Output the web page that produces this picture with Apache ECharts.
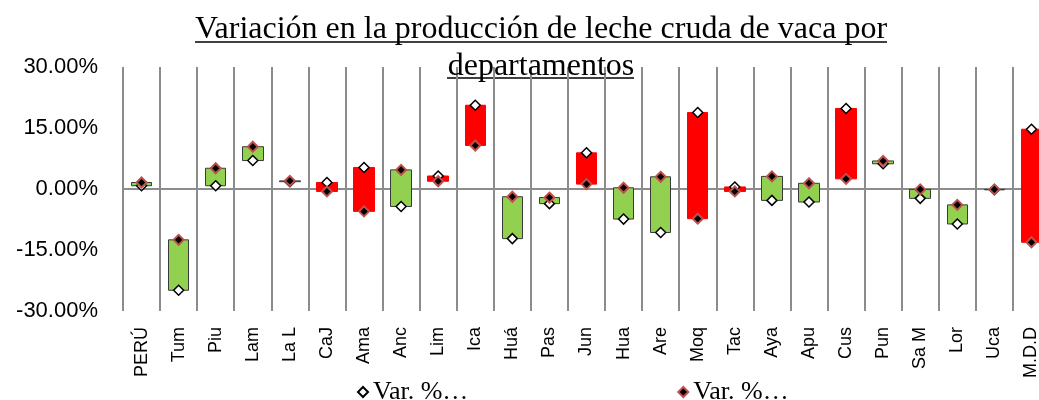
<!DOCTYPE html>
<html>
<head>
<meta charset="utf-8">
<script src="https://cdn.jsdelivr.net/npm/echarts@6/dist/echarts.min.js"></script>
<style>
  html, body { margin: 0; padding: 0; background: #fff; }
  #main { width: 1039px; height: 400px; }
</style>
</head>
<body>
<div id="main"></div>
<script>
// departamentos
var categories = ['PERÚ', 'Tum', 'Piu', 'Lam', 'La L', 'CaJ', 'Ama', 'Anc', 'Lim', 'Ica', 'Huá', 'Pas', 'Jun',
	'Hua', 'Are', 'Moq', 'Tac', 'Aya', 'Apu', 'Cus', 'Pun', 'Sa M', 'Lor', 'Uca', 'M.D.D'];
// primera variación (rombo blanco), en %
var varA = [0.8, -24.9, 0.8, 7.0, 1.8, 1.6, 5.3, -4.3, 3.2, 20.6, -12.2, -3.6, 8.9,
	-7.4, -10.7, 18.8, 0.5, -2.8, -3.2, 19.8, 6.2, -2.3, -8.6, -0.2, 14.7];
// segunda variación (rombo negro con borde rojo), en %
var varB = [1.6, -12.5, 5.1, 10.4, 2.0, -0.6, -5.5, 4.7, 1.9, 10.7, -1.9, -2.1, 1.2,
	0.3, 3.0, -7.3, -0.6, 3.1, 1.4, 2.5, 6.9, -0.1, -3.9, -0.1, -13.1];
var yTicks = [-30, -15, 0, 15, 30];
var nameA = 'Var. % (1)';
var nameB = 'Var. % (2)';

var chart = echarts.init(document.getElementById('main'));

// barras de subida / bajada entre las dos series
var boxes = [];
for (var i = 0; i < categories.length; i++) {
	boxes.push([varA[i], varB[i], Math.min(varA[i], varB[i]), Math.max(varA[i], varB[i])]);
}

var gray = '#8c8c8c';

var option = {
	animation: false,
	title: {
		text: 'Variación en la producción de leche cruda de vaca por\ndepartamentos',
		left: 536,
		top: 6,
		textAlign: 'center',
		textStyle: {
			fontFamily: 'Liberation Serif',
			fontSize: 32,
			fontWeight: 'normal',
			color: '#000',
			lineHeight: 37
		}
	},
	graphic: [
		{ type: 'line', shape: { x1: 195, y1: 42, x2: 887, y2: 42 }, style: { stroke: '#000', lineWidth: 1.5 } },
		{ type: 'line', shape: { x1: 447, y1: 78, x2: 634, y2: 78 }, style: { stroke: '#000', lineWidth: 1.5 } }
	],
	legend: {
		data: [nameA, nameB],
		left: 352,
		top: 374,
		itemGap: 209,
		itemWidth: 10,
		itemHeight: 10,
		formatter: function () { return 'Var. %…'; },
		textStyle: { fontFamily: 'Liberation Serif', fontSize: 26, color: '#000' }
	},
	grid: { left: 123, top: 67, width: 927, bottom: 89, outerBoundsMode: 'none' },
	xAxis: [
		{
			type: 'category',
			data: categories,
			position: 'bottom',
			axisLine: { onZero: true, lineStyle: { color: gray, width: 2 } },
			axisTick: { show: false },
			axisLabel: { show: false },
			splitLine: { show: false }
		},
		{
			type: 'category',
			data: categories,
			position: 'bottom',
			axisLine: { show: false, onZero: false },
			axisTick: { show: false },
			axisLabel: {
				rotate: 90,
				margin: 16,
				interval: 0,
				fontFamily: 'Liberation Sans',
				fontSize: 18,
				color: '#000'
			},
			splitLine: { show: true, interval: 0, lineStyle: { color: gray, width: 2 } }
		}
	],
	yAxis: {
		type: 'value',
		min: yTicks[0],
		max: yTicks[yTicks.length - 1],
		interval: 15,
		axisLine: { show: false },
		axisTick: { show: false },
		splitLine: { show: false },
		axisLabel: {
			margin: 25,
			fontFamily: 'Liberation Sans',
			fontSize: 22,
			color: '#000',
			formatter: function (v) { return v.toFixed(2) + '%'; }
		}
	},
	series: [
		{
			type: 'candlestick',
			xAxisIndex: 0,
			barWidth: 21,
			data: boxes,
			itemStyle: {
				color: '#92d050',
				color0: '#ff0000',
				borderColor: '#3a3a3a',
				borderColor0: '#ff0000',
				borderWidth: 1
			}
		},
		{
			name: nameA,
			type: 'scatter',
			xAxisIndex: 0,
			symbol: 'diamond',
			symbolSize: 10,
			data: varA,
			itemStyle: { color: '#fff', borderColor: '#000', borderWidth: 1.5, opacity: 1 },
			z: 3
		},
		{
			name: nameB,
			type: 'scatter',
			xAxisIndex: 0,
			symbol: 'diamond',
			symbolSize: 10,
			data: varB,
			itemStyle: { color: '#000', borderColor: '#c0504d', borderWidth: 2, opacity: 1 },
			z: 4
		}
	]
};

chart.setOption(option);
</script>
</body>
</html>
